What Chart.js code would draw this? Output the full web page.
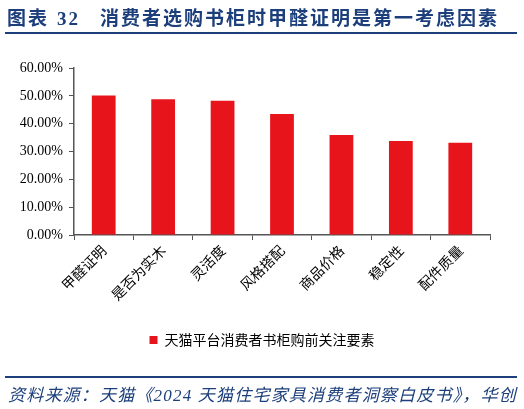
<!DOCTYPE html>
<html>
<head>
<meta charset="utf-8">
<script src="https://cdn.jsdelivr.net/npm/chart.js@4"></script>
<style>
  body { margin: 0; background: #fff; }
  #wrap { position: relative; width: 524px; height: 409px; }
  #myChart { position: absolute; left: 0; top: 0; }
  .title {
    position: absolute; left: 7px; top: 3px;
    font-family: "Noto Sans CJK SC", sans-serif; font-weight: bold;
    font-size: 19px; color: #1c3f7c; white-space: nowrap; letter-spacing: 2px;
  }
  .title .num { font-family: "Liberation Serif", serif; margin: 0 20px 0 8px; }
  .rule { position: absolute; left: 5px; width: 512px; height: 2px; background: #1c3f7c; }
  .source {
    position: absolute; left: 8px; top: 381px;
    font-family: "Liberation Serif", "Noto Sans CJK SC", serif; font-style: italic;
    font-size: 17px; color: #1c3f7c; white-space: nowrap; letter-spacing: 1.2px;
  }
</style>
</head>
<body>
<div id="wrap">
  <canvas id="myChart" width="524" height="409"></canvas>
  <div class="title">图表<span class="num">32</span>消费者选购书柜时甲醛证明是第一考虑因素</div>
  <div class="rule" style="top:32px"></div>
  <div class="rule" style="top:376px"></div>
  <div class="source">资料来源：天猫《2024 天猫住宅家具消费者洞察白皮书》，华创</div>
</div>
<script>
const labels = ["甲醛证明", "是否为实木", "灵活度", "风格搭配", "商品价格", "稳定性", "配件质量"];
const values = [50.1, 48.8, 48.2, 43.5, 35.9, 33.8, 33.1];
const seriesName = "天猫平台消费者书柜购前关注要素";
const yTicks = [0, 10, 20, 30, 40, 50, 60];

const ctx = document.getElementById("myChart").getContext("2d");

const data = {
  labels,
  datasets: [
    {
      label: seriesName,
      data: values,
      backgroundColor: "#e8141c",
      borderWidth: 0,
      barPercentage: 0.4,
      categoryPercentage: 1,
    },
  ],
};

const config = {
  type: "bar",
  data: data,
  options: {
    responsive: false,
    animation: false,
    devicePixelRatio: 1,
    layout: { padding: { top: 68, right: 0, bottom: 52, left: 0 } },
    plugins: {
      tooltip: { enabled: false },
      legend: {
        position: "bottom",
        labels: {
          boxWidth: 8,
          boxHeight: 8,
          color: "#000",
          font: { family: "Noto Sans CJK SC", size: 14 },
        },
      },
    },
    scales: {
      x: {
        afterFit: (scale) => { scale.height = 88; },
        grid: {
          drawOnChartArea: false,
          tickLength: 5,
          color: "#555",
          offset: true,
        },
        border: { color: "#555", width: 1.5 },
        ticks: {
          color: "#000",
          maxRotation: 45,
          minRotation: 45,
          padding: 2,
          font: { family: "Noto Sans CJK SC", size: 14 },
        },
      },
      y: {
        min: 0,
        max: 60,
        afterFit: (scale) => { scale.width = 74; },
        afterBuildTicks: (scale) => { scale.ticks = yTicks.map((v) => ({ value: v })); },
        grid: { drawOnChartArea: false, tickLength: 5, color: "#555" },
        border: { color: "#555", width: 1.5 },
        ticks: {
          color: "#000",
          padding: 6,
          font: { family: "Liberation Serif", size: 14 },
          callback: (v) => v.toFixed(2) + "%",
        },
      },
      // empty right-hand axis: keeps the plot narrow but lets the legend centre on the page
      yRight: {
        position: "right",
        afterFit: (scale) => { scale.width = 34; },
        grid: { display: false },
        border: { display: false },
        ticks: { display: false },
      },
    },
  },
};
const myChart = new Chart(ctx, config);
</script>
</body>
</html>
